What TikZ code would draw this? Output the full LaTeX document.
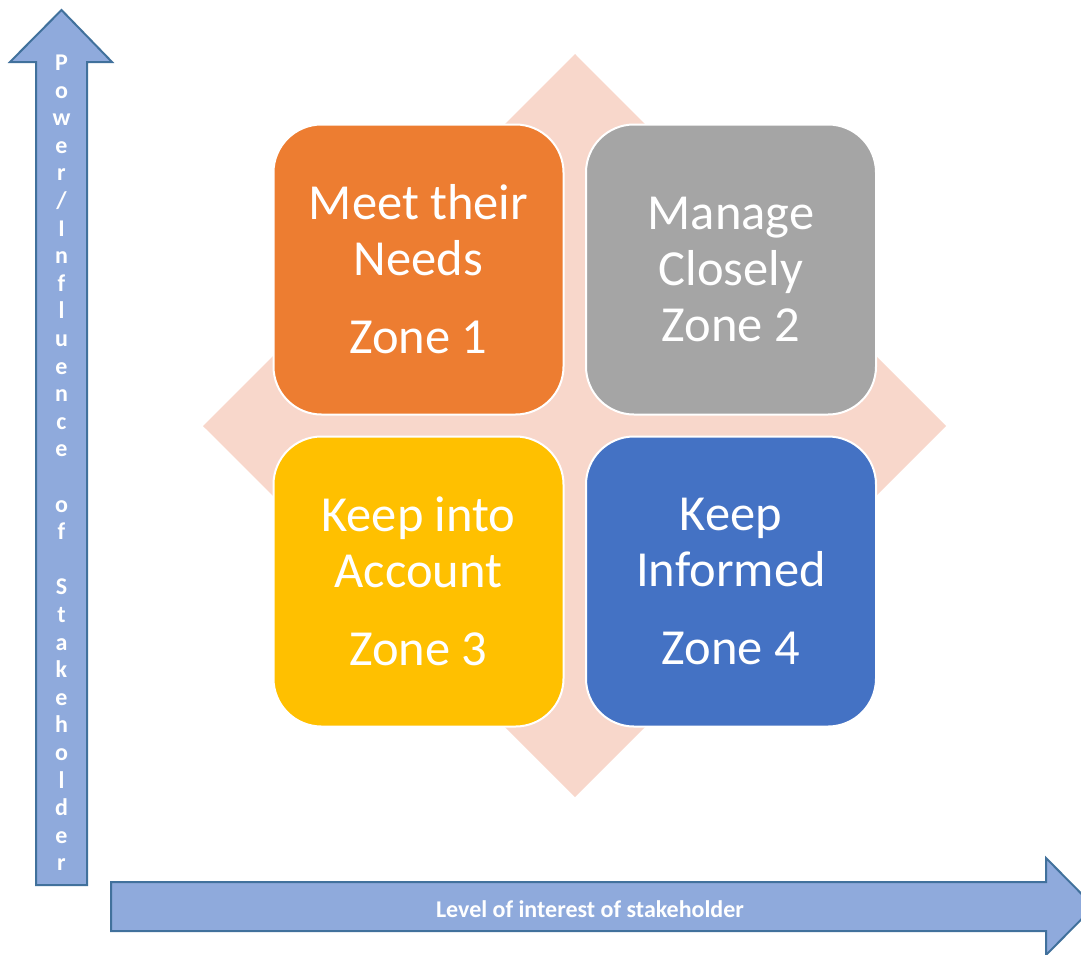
\documentclass[tikz,border=0pt]{standalone}
\usepackage{fontspec}
\setmainfont{Carlito}
\definecolor{diamondfill}{HTML}{F8D7CB}
\definecolor{zoneorange}{HTML}{ED7D31}
\definecolor{zonegray}{HTML}{A5A5A5}
\definecolor{zoneyellow}{HTML}{FFC000}
\definecolor{zoneblue}{HTML}{4472C4}
\definecolor{arrowfill}{HTML}{8FAADC}
\definecolor{arrowline}{HTML}{41719C}
\begin{document}
\begin{tikzpicture}[x=1pt,y=-1pt,
  zone/.style={rectangle, rounded corners=48pt, draw=white, line width=2pt,
    minimum width=290pt, minimum height=290pt, text=white, align=center,
    font=\fontsize{50.5}{56}\selectfont, inner sep=0pt},
  axisarrow/.style={fill=arrowfill, draw=arrowline, line width=2pt, line join=miter},
  axislabel/.style={text=white, font=\bfseries\fontsize{24}{27.6}\selectfont, align=center, inner sep=0pt}]
\useasboundingbox (0,0) rectangle (1081,954);
\clip (0,0) rectangle (1081,954);
% background diamond
\fill[diamondfill] (575,54) -- (946,426) -- (575,797) -- (203,426) -- cycle;
% zones
\node[zone, fill=zoneorange] (z1) at (418.5,269.5) {Meet their\\Needs\\[22pt]Zone 1};
\node[zone, fill=zonegray] (z2) at (731,269.5) {Manage\\Closely\\Zone 2};
\node[zone, fill=zoneyellow] (z3) at (418.5,581.5) {Keep into\\Account\\[22pt]Zone 3};
\node[zone, fill=zoneblue] (z4) at (731,581.5) {Keep\\Informed\\[22pt]Zone 4};
% vertical axis arrow
\draw[axisarrow] (36,885) -- (36,62) -- (10,62) -- (61.5,10) -- (112,62) -- (87,62) -- (87,885) -- cycle;
\node[axislabel] (ylab) at (61.5,463) {P\\o\\w\\e\\r\\/\\I\\n\\f\\l\\u\\e\\n\\c\\e\\\mbox{}\\o\\f\\\mbox{}\\S\\t\\a\\k\\e\\h\\o\\l\\d\\e\\r};
% horizontal axis arrow
\draw[axisarrow] (111,882) -- (1046,882) -- (1046,858) -- (1094,906.5) -- (1046,955) -- (1046,931) -- (111,931) -- cycle;
\node[axislabel] (xlab) at (590,909) {Level of interest of stakeholder};
\end{tikzpicture}
\end{document}
